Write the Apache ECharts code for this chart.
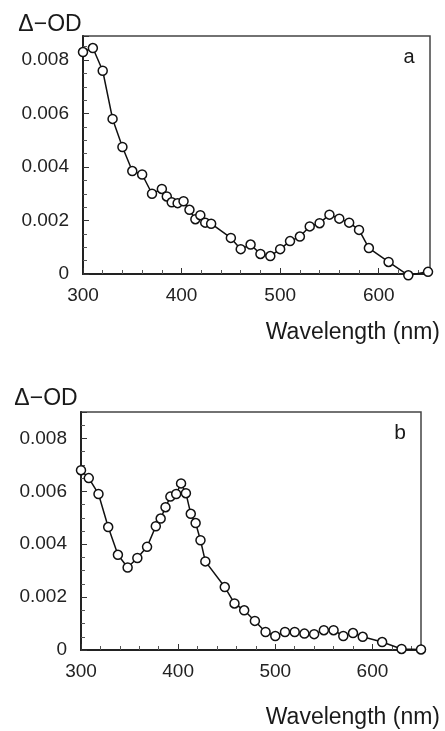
<!DOCTYPE html>
<html><head><meta charset="utf-8">
<script src="https://cdn.jsdelivr.net/npm/echarts@6/dist/echarts.min.js"></script>
<style>html,body{margin:0;padding:0;background:#fff}#c{width:445px;height:731px}</style>
</head><body><div id="c"></div>
<script>
// Panel a: wavelength (nm) and Δ-OD (units of 0.001)
const wlA = [300,310,320,330,340,350,360,370,380,385,390,396,402,408,414,419,424,430,450,460,470,480,490,500,510,520,530,540,550,560,570,580,590,610,630,650];
const odA = [8.3,8.45,7.6,5.8,4.75,3.85,3.72,3.0,3.18,2.9,2.68,2.65,2.72,2.4,2.05,2.2,1.92,1.88,1.35,0.93,1.1,0.75,0.67,0.93,1.23,1.4,1.78,1.9,2.22,2.07,1.92,1.65,0.97,0.45,-0.05,0.08];
// Panel b
const wlB = [300,308,318,328,338,348,358,368,377,382,387,392,398,403,408,413,418,423,428,448,458,468,479,490,500,510,520,530,540,550,560,570,580,590,610,630,650];
const odB = [6.8,6.5,5.9,4.65,3.6,3.12,3.48,3.9,4.68,4.97,5.4,5.8,5.9,6.3,5.93,5.15,4.8,4.15,3.35,2.38,1.76,1.5,1.1,0.68,0.53,0.68,0.68,0.62,0.6,0.75,0.75,0.53,0.64,0.5,0.3,0.04,0.02];
const xTicks = [300,400,500,600];
const yTicks = [0,0.002,0.004,0.006,0.008];
const panelLabels = ['a','b'];
const yName = 'Δ−OD';
const xName = 'Wavelength (nm)';

const FONT = 'Liberation Sans, Arial, sans-serif';
const toPairs = (xs, ys) => xs.map((x,i)=>[x, ys[i]/1000]);

function xAxisCfg(gi, max){
  return {
    type:'value', gridIndex:gi, min:300, max:max, interval:100,
    axisLine:{show:true, onZero:false, lineStyle:{color:'#222', width:2}},
    axisTick:{show:true, inside:true, length:6, lineStyle:{color:'#333', width:1}},
    minorTick:{show:true, splitNumber:5, length:4, lineStyle:{color:'#555'}},
    splitLine:{show:false},
    axisLabel:{show:true, showMaxLabel:false, margin:12, color:'#222', fontFamily:FONT, fontSize:19,
      formatter:v => xTicks.includes(v) ? String(v) : ''}
  };
}
function yAxisCfg(gi, max){
  return {
    type:'value', gridIndex:gi, min:0, max:max, interval:0.002,
    axisLine:{show:true, onZero:false, lineStyle:{color:'#222', width:2}},
    axisTick:{show:true, inside:true, length:6, lineStyle:{color:'#333', width:1}},
    minorTick:{show:true, splitNumber:4, length:4, lineStyle:{color:'#555'}},
    splitLine:{show:false},
    axisLabel:{show:true, showMaxLabel:false, margin:14, color:'#222', fontFamily:FONT, fontSize:19,
      formatter:v => { const t = yTicks.find(k => Math.abs(k-v)<1e-9); return t===undefined ? '' : (t===0 ? '0' : t.toFixed(3)); }}
  };
}
function seriesCfg(gi, data){
  return {
    type:'line', xAxisIndex:gi, yAxisIndex:gi, data:data, clip:false,
    symbol:'circle', symbolSize:9, showAllSymbol:true,
    lineStyle:{color:'#111', width:1.5},
    itemStyle:{color:'#fff', borderColor:'#111', borderWidth:1.5},
    animation:false, z:3
  };
}
const txt = (x,y,text,size,align) => ({type:'text', x:x, y:y,
  style:{text:text, fontFamily:FONT, fontSize:size, fill:'#1a1a1a', align:align, verticalAlign:'middle'}});

const chart = echarts.init(document.getElementById('c'), null, {renderer:'canvas'});
chart.setOption({
  backgroundColor:'#fff',
  animation:false,
  grid:[
    {left:83, top:36, width:347, height:238, show:true, borderColor:'#444', borderWidth:1.5, backgroundColor:'transparent'},
    {left:81, top:412, width:340, height:238, show:true, borderColor:'#444', borderWidth:1.5, backgroundColor:'transparent'}
  ],
  xAxis:[xAxisCfg(0, 652), xAxisCfg(1, 650)],
  yAxis:[yAxisCfg(0, 0.0089), yAxisCfg(1, 0.009)],
  series:[seriesCfg(0, toPairs(wlA, odA)), seriesCfg(1, toPairs(wlB, odB))],
  graphic:[
    txt(50, 25, yName, 23, 'center'),
    txt(440, 333, xName, 23, 'right'),
    txt(409, 57, panelLabels[0], 20, 'center'),
    txt(46, 399, yName, 23, 'center'),
    txt(440, 718, xName, 23, 'right'),
    txt(400, 433, panelLabels[1], 21, 'center')
  ]
});
</script></body></html>
